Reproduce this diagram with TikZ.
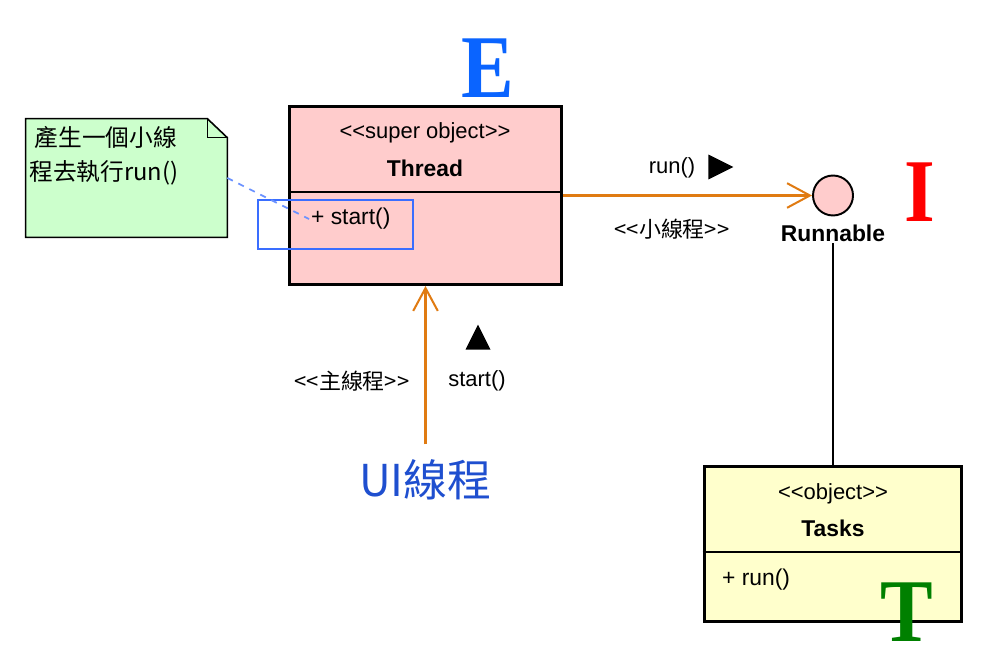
\documentclass[tikz,border=0pt]{standalone}
\usepackage{fontspec}
\newfontfamily\uml{Liberation Sans}
\newfontfamily\cjk{Noto Sans CJK TC}
\newfontfamily\capfont[FakeStretch=0.88]{Liberation Serif}
\usetikzlibrary{arrows.meta,positioning,shapes.geometric}
\definecolor{threadpink}{HTML}{FFCCCC}
\definecolor{notegreen}{HTML}{CCFFCC}
\definecolor{taskyellow}{HTML}{FFFFCC}
\definecolor{flowline}{HTML}{E07B12}
\definecolor{selblue}{HTML}{3A6EFF}
\definecolor{letterblue}{HTML}{0A64FF}
\definecolor{uiblue}{HTML}{1F4FCF}

\begin{document}
\begin{tikzpicture}[x=0.02cm,y=-0.02cm,
            classbox/.style={draw,rectangle,line width=1.7pt,inner sep=0pt},
            stereo/.style={font=\uml\fontsize{12.5}{14}\selectfont,inner sep=1pt},
            cname/.style={font=\uml\bfseries\fontsize{13}{15}\selectfont,inner sep=1pt},
            oper/.style={font=\uml\fontsize{13}{15}\selectfont,anchor=west,inner sep=1pt},
            lab/.style={font=\uml\fontsize{12.5}{14}\selectfont,inner sep=1pt},
            cjklab/.style={font=\cjk\fontsize{12.5}{14}\selectfont,inner sep=1pt},
            tri/.style={isosceles triangle,isosceles triangle stretches,fill=black,inner sep=0pt,minimum width=0.5cm,minimum height=0.5cm},
            bigletter/.style={font=\capfont\bfseries\fontsize{51}{51}\selectfont,inner sep=0pt},
            flow/.style={draw=flowline,line width=1.15pt,-{Straight Barb[length=13pt,width=14pt]}}
          ]
          \useasboundingbox (0,0) rectangle (1000,672);

          %Thread class
          \node[classbox,fill=threadpink,minimum width=5.44cm,minimum height=3.56cm] (thread) at (425.5,195.5) {};
          \draw[line width=0.6pt] (thread.west |- 0,192) -- (thread.east |- 0,192);
          \node[stereo] (threadst) at (425,133) {<{}<super object>{}>};
          \node[cname] (threadname) at (425,168) {Thread};
          \node[oper] (startop) at (309,219) {+ start()};
          \node[draw=selblue,line width=0.9pt,minimum width=3.1cm,minimum height=0.98cm,inner sep=0pt] (sel) at (335.5,224.5) {};

          %note
          \node[minimum width=4.02cm,minimum height=2.36cm,inner sep=0pt] (note) at (126.5,178) {};
          \draw[fill=notegreen,line width=0.9pt] (note.north west) -- ([xshift=-0.4cm]note.north east) -- ([yshift=-0.38cm]note.north east) -- (note.south east) -- (note.south west) -- cycle;
          \draw[line width=0.9pt] ([xshift=-0.4cm]note.north east) -- ([xshift=-0.4cm,yshift=-0.38cm]note.north east) -- ([yshift=-0.38cm]note.north east);
          \node[font=\cjk\fontsize{13.5}{19.3}\selectfont,align=left,anchor=north west,inner sep=0pt] (notetxt) at (29,126) {~產生一個小線\\程去執行run()};
          \draw[draw=selblue!75,line width=1pt,dash pattern=on 3.5pt off 3.5pt] (note.east) -- (startop.west);

          %Runnable
          \node[circle,draw,fill=threadpink,line width=1.1pt,minimum size=0.8cm,inner sep=0pt] (runnable) at (833,195.5) {};
          \node[below of = runnable,cname,node distance=0.75cm] (runlab) {Runnable};

          %Tasks class
          \node[classbox,fill=taskyellow,minimum width=5.16cm,minimum height=3.1cm] (tasks) at (833,544) {};
          \draw[line width=0.6pt] (tasks.west |- 0,552) -- (tasks.east |- 0,552);
          \node[stereo] (taskst) at (833,494) {<{}<object>{}>};
          \node[cname] (taskname) at (833,528) {Tasks};
          \node[oper] (runop) at (720,580) {+ run()};

          %UI thread
          \node[font=\cjk\fontsize{25}{25}\selectfont,text=uiblue,inner sep=0pt] (ui) at (425.5,480) {UI線程};
          \coordinate[above=0.3cm of ui.north] (uitop);

          %labels
          \node[lab] (runcall) at (672,168) {run()};
          \node[tri,shape border rotate=0] (runtri) at (716,167) {};
          \node[cjklab] (smallth) at (672,229) {<{}<小線程>{}>};
          \node[cjklab] (mainth) at (352,381) {<{}<主線程>{}>};
          \node[lab] (startcall) at (477,381) {start()};
          \node[tri,shape border rotate=90] (starttri) at (478,342) {};

          %letters
          \node[bigletter,text=letterblue] (eletter) at (488,68) {E};
          \node[bigletter,text=red] (iletter) at (920,192) {I};
          \node[bigletter,text=green!50!black] (tletter) at (907,612) {T};

          \draw[flow] (thread.east) -- (runnable.west);
          \draw[flow] (uitop) -- (thread.south);
          \draw[line width=0.6pt] (runlab.south) -- (tasks.north);

      \end{tikzpicture}
\end{document}
